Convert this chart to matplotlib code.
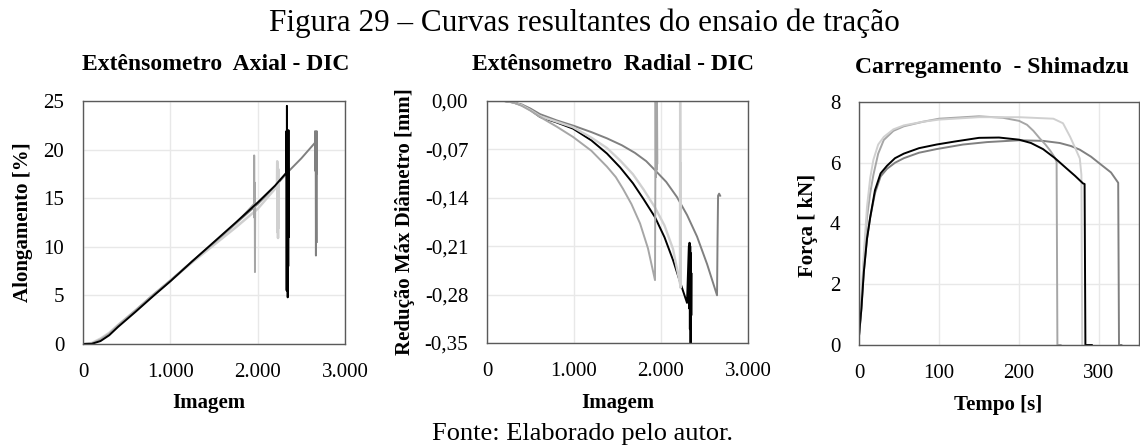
import matplotlib
matplotlib.use("Agg")
import matplotlib.pyplot as plt
from matplotlib.ticker import FuncFormatter, MultipleLocator

plt.rcParams['font.family'] = ['Liberation Serif', 'DejaVu Serif']

# ---------------- data: Extensometro Axial (Imagem vs Alongamento %) ----------------
ax_dark_x = [0, 100, 200, 300, 400, 600, 800, 1000, 1250, 1500, 1750, 2000, 2200, 2336, 2500, 2656,
             2658, 2661, 2664, 2667, 2670, 2673, 2676, 2678]
ax_dark_y = [0, 0.05, 0.4, 1.0, 1.85, 3.4, 5.0, 6.5, 8.5, 10.4, 12.4, 14.4, 16.2, 17.6, 19.1, 20.7,
             21.9, 17.8, 21.8, 9.1, 21.6, 17.5, 21.9, 10.5]
ax_med_x = [0, 100, 200, 300, 400, 600, 800, 1000, 1250, 1500, 1750, 1958, 1960, 1963, 1966, 1969, 1972]
ax_med_y = [0, 0.05, 0.45, 1.05, 1.9, 3.45, 5.05, 6.55, 8.5, 10.4, 12.4, 14.4, 19.4, 13.0, 16.6, 7.4, 14.5]
ax_light_x = [0, 100, 200, 300, 400, 600, 800, 1000, 1250, 1500, 1750, 2000, 2221, 2224, 2227, 2230,
              2233, 2236, 2239]
ax_light_y = [0, 0.1, 0.55, 1.15, 1.95, 3.45, 5.0, 6.5, 8.4, 10.2, 12.0, 13.9, 16.2, 18.8, 11.5, 18.5,
              10.9, 18.0, 12.0]
ax_black_x = [0, 100, 200, 300, 400, 600, 800, 1000, 1250, 1500, 1750, 2000, 2200, 2326,
              2329, 2332, 2335, 2338, 2341, 2344, 2347, 2350, 2353, 2356, 2358]
ax_black_y = [0, 0.02, 0.3, 0.9, 1.75, 3.3, 4.9, 6.45, 8.5, 10.5, 12.5, 14.55, 16.3, 17.6,
              21.9, 5.5, 24.5, 7.6, 21.9, 4.8, 21.5, 8.0, 22.0, 11.0, 17.5]

# ---------------- data: Extensometro Radial (Imagem vs Reducao Max Diametro mm) ----------------
rad_dark_x = [0, 200, 300, 400, 500, 609, 800, 1000, 1200, 1379, 1550, 1700, 1830, 1931, 2060, 2184,
              2300, 2414, 2530, 2644, 2650, 2656, 2668, 2680]
rad_dark_y = [0, 0, -0.002, -0.005, -0.011, -0.019, -0.028, -0.036, -0.045, -0.054, -0.064, -0.075,
              -0.087, -0.100, -0.117, -0.139, -0.165, -0.196, -0.236, -0.281, -0.20, -0.137, -0.134,
              -0.137]
rad_med_x = [0, 200, 300, 400, 500, 609, 800, 989, 1200, 1379, 1480, 1563, 1660, 1759, 1850, 1931,
             1938, 1942, 1946, 1950, 1954, 1958]
rad_med_y = [0, 0, -0.002, -0.007, -0.014, -0.023, -0.037, -0.052, -0.072, -0.095, -0.110, -0.127,
             -0.149, -0.177, -0.213, -0.259, 0.0, -0.11, 0.0, -0.10, 0.0, -0.09]
rad_light_x = [0, 200, 300, 400, 500, 609, 800, 989, 1200, 1379, 1530, 1678, 1800, 1931, 2040, 2138,
               2218, 2220, 2222, 2224, 2226, 2228]
rad_light_y = [0, 0, -0.002, -0.006, -0.013, -0.022, -0.030, -0.038, -0.053, -0.068, -0.086, -0.106,
               -0.128, -0.154, -0.180, -0.214, -0.264, 0.0, -0.085, -0.27, -0.09, -0.26]
rad_black_x = [0, 200, 300, 400, 500, 609, 800, 989, 1200, 1379, 1530, 1678, 1800, 1931, 2040, 2138,
               2220, 2299, 2320, 2324, 2328, 2332, 2336, 2340, 2344, 2348, 2352]
rad_black_y = [0, 0, -0.002, -0.006, -0.013, -0.023, -0.031, -0.040, -0.057, -0.076, -0.096, -0.119,
               -0.142, -0.168, -0.197, -0.230, -0.262, -0.292, -0.21, -0.30, -0.205, -0.33, -0.21,
               -0.35, -0.22, -0.31, -0.25]

# ---------------- data: Carregamento Shimadzu (Tempo s vs Forca kN) ----------------
f_light_t = [0, 3, 6, 10, 14, 18, 24, 31, 43, 56, 80, 100, 150, 200, 243, 255, 264, 270, 276, 278, 279]
f_light_f = [0.3, 1.5, 3.0, 4.55, 5.5, 6.1, 6.6, 6.85, 7.1, 7.23, 7.35, 7.42, 7.5, 7.5, 7.45, 7.3,
             6.85, 6.5, 6.14, 5.6, 0.0]
f_med_t = [0, 3, 6, 10, 14, 18, 24, 31, 43, 56, 80, 100, 150, 180, 200, 210, 218, 226, 233, 239, 244,
           247, 248, 252]
f_med_f = [0.3, 1.4, 2.8, 4.2, 5.0, 5.6, 6.3, 6.75, 7.05, 7.2, 7.35, 7.45, 7.53, 7.48, 7.38, 7.25,
           7.05, 6.8, 6.6, 6.4, 6.2, 6.03, 0.0, 0.0]
f_black_t = [0, 3, 6, 10, 14, 20, 27, 35, 45, 56, 75, 97, 120, 150, 175, 200, 215, 230, 245, 260,
             270, 280, 282, 283, 291]
f_black_f = [0.3, 1.2, 2.4, 3.5, 4.2, 5.1, 5.65, 5.9, 6.15, 6.3, 6.48, 6.6, 6.7, 6.82, 6.83, 6.76,
             6.65, 6.45, 6.15, 5.8, 5.57, 5.32, 5.3, 0.0, 0.0]
f_dark_t = [0, 3, 6, 10, 14, 20, 27, 35, 45, 56, 75, 97, 130, 160, 200, 230, 251, 265, 276, 290,
            301, 315, 324, 325, 328]
f_dark_f = [0.3, 1.2, 2.4, 3.5, 4.2, 5.0, 5.55, 5.8, 6.0, 6.15, 6.33, 6.45, 6.6, 6.68, 6.74, 6.72,
            6.65, 6.55, 6.43, 6.2, 5.97, 5.68, 5.34, 0.0, 0.0]

C_BLACK = '#000000'
C_DARK = '#808080'
C_MED = '#a6a6a6'
C_LIGHT = '#d0d0d0'

fig = plt.figure(figsize=(11.4, 4.47), dpi=100)
W, H = 1140, 447


def axes_px(l, r, t, b):
    return fig.add_axes([l / W, 1 - b / H, (r - l) / W, (b - t) / H])


ax1 = axes_px(83, 345, 101, 344)
ax2 = axes_px(487, 748, 101, 343)
ax3 = axes_px(859, 1139, 102, 345)

thou = FuncFormatter(lambda v, p: f"{int(round(v)):,}".replace(',', '.'))
comma2 = FuncFormatter(lambda v, p: f"{v:.2f}".replace('.', ',').replace('-0,00', '0,00'))

for ax in (ax1, ax2, ax3):
    ax.grid(True, color='#e8e8e8', lw=1.0)
    ax.set_axisbelow(True)
    for s in ax.spines.values():
        s.set_color('#5a5a5a')
        s.set_linewidth(1.0)
    ax.tick_params(length=0, labelsize=15, pad=13.5)

lw = 1.4
# axial
ax1.plot(ax_dark_x, ax_dark_y, color=C_DARK, lw=lw)
ax1.plot(ax_light_x, ax_light_y, color=C_LIGHT, lw=lw + 0.4)
ax1.plot(ax_med_x, ax_med_y, color=C_MED, lw=lw)
ax1.plot(ax_black_x, ax_black_y, color=C_BLACK, lw=lw)
ax1.set_xlim(0, 3000)
ax1.set_ylim(0, 25)
ax1.xaxis.set_major_locator(MultipleLocator(1000))
ax1.yaxis.set_major_locator(MultipleLocator(5))
ax1.xaxis.set_major_formatter(thou)

# radial
ax2.plot(rad_dark_x, rad_dark_y, color=C_DARK, lw=lw)
ax2.plot(rad_black_x, rad_black_y, color=C_BLACK, lw=lw)
ax2.plot(rad_light_x, rad_light_y, color=C_LIGHT, lw=lw + 0.3)
ax2.plot(rad_med_x, rad_med_y, color=C_MED, lw=lw)
ax2.set_xlim(0, 3000)
ax2.set_ylim(-0.35, 0)
ax2.xaxis.set_major_locator(MultipleLocator(1000))
ax2.set_yticks([0, -0.07, -0.14, -0.21, -0.28, -0.35])
ax2.xaxis.set_major_formatter(thou)
ax2.yaxis.set_major_formatter(comma2)

# force
ax3.plot(f_dark_t, f_dark_f, color=C_DARK, lw=lw)
ax3.plot(f_med_t, f_med_f, color=C_MED, lw=lw)
ax3.plot(f_light_t, f_light_f, color=C_LIGHT, lw=lw)
ax3.plot(f_black_t, f_black_f, color=C_BLACK, lw=lw)
ax3.set_xlim(0, 350)
ax3.set_ylim(0, 8)
ax3.xaxis.set_major_locator(MultipleLocator(100))
ax3.yaxis.set_major_locator(MultipleLocator(2))

bold = dict(fontsize=15, fontweight='bold')
ax1.set_xlabel('Imagem', **bold)
ax1.set_ylabel('Alongamento [%]', **bold)
ax1.xaxis.set_label_coords(0.48, -0.242)
ax1.yaxis.set_label_coords(-0.229, 0.5)
ax2.set_xlabel('Imagem', **bold)
ax2.set_ylabel('Redução Máx Diâmetro [mm]', **bold)
ax2.xaxis.set_label_coords(0.5, -0.248)
ax2.yaxis.set_label_coords(-0.314, 0.5)
ax3.set_xlabel('Tempo [s]', **bold)
ax3.set_ylabel('Força [ kN]', **bold)
ax3.xaxis.set_label_coords(0.496, -0.247)
ax3.yaxis.set_label_coords(-0.182, 0.494)
for a in (ax1, ax2, ax3):
    a.xaxis.label.set_va('center')
    a.yaxis.label.set_va('center')

sub = dict(fontsize=17, fontweight='bold', ha='center', va='center')
fig.text(216 / W, 1 - 65 / H, 'Extênsometro  Axial - DIC', **sub)
fig.text(613 / W, 1 - 65 / H, 'Extênsometro  Radial - DIC', **sub)
fig.text(992 / W, 1 - 68 / H, 'Carregamento  - Shimadzu', **sub)

fig.text(584 / W, 1 - 31 / H, 'Figura 29 – Curvas resultantes do ensaio de tração',
         fontsize=22.5, ha='center', va='baseline')
fig.text(583 / W, 1 - 434 / H, 'Fonte: Elaborado pelo autor.', fontsize=19, ha='center', va='center')

fig.savefig('out.png', dpi=100)
